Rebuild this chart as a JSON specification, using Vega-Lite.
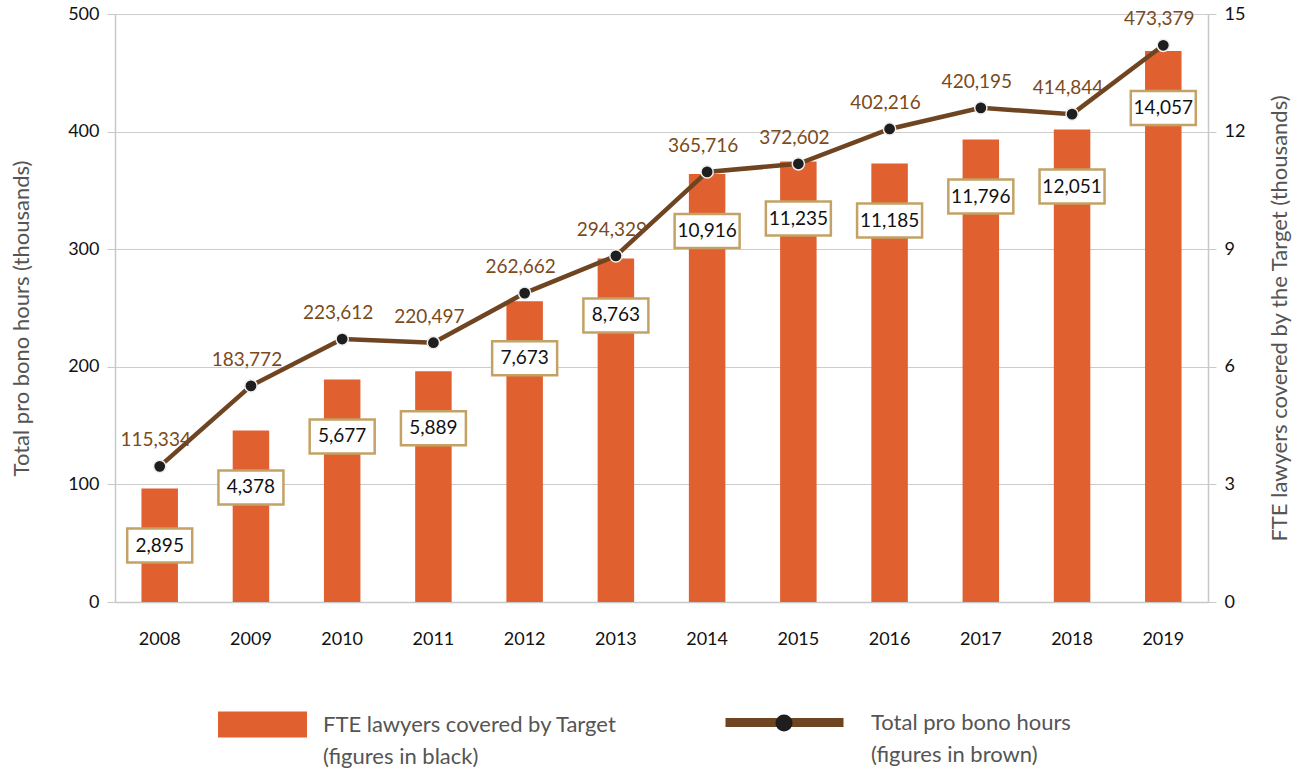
{
  "$schema": "https://vega.github.io/schema/vega-lite/v6.json",
  "width": 1093,
  "height": 588,
  "autosize": {"type": "none"},
  "padding": {"left": 115, "top": 14, "right": 98, "bottom": 170},
  "background": "white",
  "config": {
    "font": "Lato",
    "view": {"stroke": null},
    "style": {"guide-label": {"lineHeight": 32}},
    "axis": {"labelFont": "Lato", "titleFont": "Lato"},
    "legend": {"padding": 0, "labelFont": "Lato"}
  },
  "data": {
    "values": [
      {"year": "2008", "hours": 115334, "fte": 2895},
      {"year": "2009", "hours": 183772, "fte": 4378},
      {"year": "2010", "hours": 223612, "fte": 5677},
      {"year": "2011", "hours": 220497, "fte": 5889},
      {"year": "2012", "hours": 262662, "fte": 7673},
      {"year": "2013", "hours": 294329, "fte": 8763},
      {"year": "2014", "hours": 365716, "fte": 10916},
      {"year": "2015", "hours": 372602, "fte": 11235},
      {"year": "2016", "hours": 402216, "fte": 11185},
      {"year": "2017", "hours": 420195, "fte": 11796},
      {"year": "2018", "hours": 414844, "fte": 12051},
      {"year": "2019", "hours": 473379, "fte": 14057}
    ]
  },
  "encoding": {
    "x": {
      "field": "year",
      "type": "ordinal",
      "scale": {"paddingInner": 0.6, "paddingOuter": 0.29},
      "axis": {
        "title": null,
        "labelAngle": 0,
        "domainColor": "#c8c8c8",
        "domainWidth": 1.5,
        "ticks": false,
        "tickSize": 0,
        "labelPadding": 28,
        "labelFontSize": 18,
        "labelColor": "#111111"
      }
    }
  },
  "layer": [
    {
      "encoding": {
        "y": {
          "field": "fte",
          "type": "quantitative",
          "scale": {"domain": [0, 15000], "nice": false},
          "axis": {
            "orient": "right",
            "values": [0, 3000, 6000, 9000, 12000, 15000],
            "labelExpr": "datum.value/1000",
            "grid": false,
            "domainColor": "#c8c8c8",
            "domainWidth": 1.5,
            "tickColor": "#c8c8c8",
            "tickSize": 8,
            "labelPadding": 8,
            "labelFontSize": 18,
            "labelColor": "#111111",
            "title": "FTE lawyers covered by the Target (thousands)",
            "titleFontSize": 22,
            "titleFontWeight": "normal",
            "titleColor": "#555555",
            "titleAngle": 270,
            "titleBaseline": "bottom",
            "titleLimit": 600,
            "titleX": 83,
            "titleY": 304
          }
        }
      },
      "layer": [
        {
          "mark": {"type": "bar"},
          "encoding": {
            "fill": {
              "datum": "FTE lawyers covered by Target|(figures in black)",
              "scale": {"range": ["#E1602F"]},
              "legend": {
                "orient": "none",
                "legendX": 103,
                "legendY": 666,
                "title": null,
                "symbolType": "M-1,-0.292H1V0.292H-1Z",
                "symbolSize": 7921,
                "symbolStrokeWidth": 0,
                "labelFontSize": 22,
                "labelColor": "#555555",
                "labelOffset": 16,
                "labelLimit": 500,
                "labelExpr": "split(datum.label, '|')"
              }
            }
          }
        },
        {
          "mark": {
            "type": "point",
            "shape": "M-1,-0.523H1V0.523H-1Z",
            "size": 4225,
            "fill": "white",
            "stroke": "#C4A265",
            "strokeWidth": 2.5,
            "opacity": 1,
            "yOffset": 57
          }
        },
        {
          "mark": {
            "type": "text",
            "fontSize": 19,
            "color": "#111111",
            "baseline": "middle",
            "yOffset": 57
          },
          "encoding": {
            "text": {"field": "fte", "type": "quantitative", "format": ","}
          }
        }
      ]
    },
    {
      "encoding": {
        "y": {
          "field": "hours",
          "type": "quantitative",
          "scale": {"domain": [0, 500000], "nice": false},
          "axis": {
            "orient": "left",
            "values": [0, 100000, 200000, 300000, 400000, 500000],
            "labelExpr": "datum.value/1000",
            "grid": true,
            "gridColor": "#cccccc",
            "gridWidth": 1.2,
            "domainColor": "#c8c8c8",
            "domainWidth": 1.5,
            "tickColor": "#c8c8c8",
            "tickSize": 8,
            "labelPadding": 8,
            "labelFontSize": 18,
            "labelColor": "#111111",
            "title": "Total pro bono hours (thousands)",
            "titleFontSize": 22,
            "titleFontWeight": "normal",
            "titleColor": "#555555",
            "titleAngle": 270,
            "titleBaseline": "bottom",
            "titleLimit": 600,
            "titleX": -82,
            "titleY": 304
          }
        }
      },
      "layer": [
        {
          "mark": {"type": "line", "strokeWidth": 4.5},
          "encoding": {
            "stroke": {
              "datum": "Total pro bono hours| (figures in brown)",
              "scale": {"range": ["#6E4421"]},
              "legend": {
                "orient": "none",
                "legendX": 606,
                "legendY": 645,
                "title": null,
                "symbolType": "stroke",
                "symbolSize": 13924,
                "symbolStrokeWidth": 9,
                "labelFontSize": 22,
                "labelColor": "#555555",
                "labelOffset": 23,
                "labelLimit": 500,
                "labelExpr": "split(datum.label, '|')"
              }
            }
          }
        },
        {
          "mark": {
            "type": "point",
            "filled": true,
            "color": "#1E1E1E",
            "stroke": "#eeeeee",
            "strokeWidth": 1.5,
            "size": 150,
            "opacity": 1
          },
          "encoding": {
            "shape": {
              "datum": "dot",
              "scale": {"range": ["circle"]},
              "legend": {
                "orient": "none",
                "legendX": 659,
                "legendY": 699,
                "title": null,
                "symbolSize": 290,
                "symbolFillColor": "#000000",
                "symbolStrokeColor": "#ffffff",
                "symbolStrokeWidth": 2,
                "labelExpr": "''",
                "zindex": 2
              }
            }
          }
        },
        {
          "mark": {
            "type": "text",
            "fontSize": 19,
            "color": "#7A4A1C",
            "dy": -26,
            "dx": -4
          },
          "encoding": {
            "text": {"field": "hours", "type": "quantitative", "format": ","}
          }
        }
      ]
    }
  ],
  "resolve": {"scale": {"y": "independent", "fill": "independent", "stroke": "independent", "shape": "independent"}}
}
